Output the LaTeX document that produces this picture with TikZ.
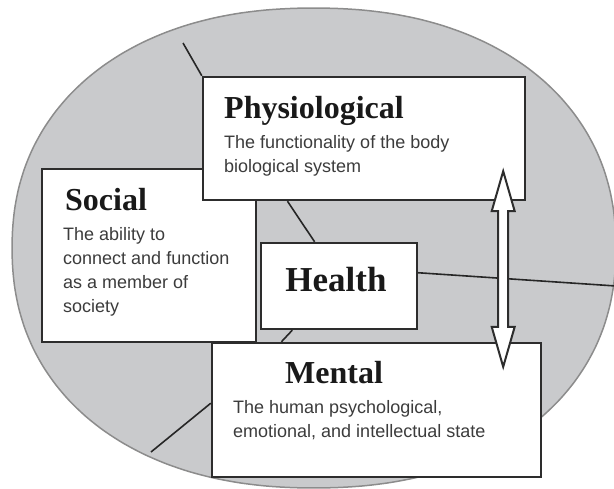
\documentclass[tikz,border=0pt]{standalone}
\usepackage{fontspec}
\setmainfont{Liberation Sans}
\newfontfamily\headfont{Liberation Serif}
\usetikzlibrary{calc}
\definecolor{ovalfill}{RGB}{201,202,204}
\definecolor{ovalline}{RGB}{140,140,140}
\definecolor{boxline}{RGB}{45,45,45}
\definecolor{desctext}{RGB}{60,60,60}
\definecolor{headtext}{RGB}{25,25,25}

\begin{document}
\begin{tikzpicture}[
	x = 1pt, y = -1pt,
	declare function = {
		ox(\t) = 314 + 302*cos(\t)/abs(cos(\t))^0.09;
		oy(\t) = 248 + 240*sin(\t)/abs(sin(\t))^0.09;
	},
	box/.style = {draw = boxline, line width = 2.4pt, fill = white, inner sep = 0pt},
	head/.style = {anchor = base west, inner sep = 0pt, text = headtext, font = \headfont\bfseries\fontsize{32}{36}\selectfont},
	desc/.style = {anchor = north west, inner sep = 0pt, align = left, text = desctext, font = \fontsize{18}{24}\selectfont},
	link/.style = {draw = black!85, line width = 1.6pt},
	twoway/.style = {draw = boxline, line width = 2pt, fill = white}]
	\useasboundingbox (0,0) rectangle (614,488);

	\draw[fill = ovalfill, draw = ovalline, line width = 1.5pt] plot[smooth cycle, domain = 2:358, samples = 72, variable = \t] ({ox(\t)},{oy(\t)});

	\coordinate (tl) at (183,43);
	\coordinate (bl) at (151,452);
	\coordinate (rt) at (616,286);

	\node[box, minimum width = 214pt, minimum height = 173pt] (social) at (149,255.5) {};
	\node[box, minimum width = 322pt, minimum height = 123pt] (phys) at (364,138.5) {};
	\node[box, minimum width = 156pt, minimum height = 86pt] (health) at (339,286) {};
	\node[box, minimum width = 329pt, minimum height = 134pt] (mental) at (376.5,410) {};

	\draw[link] (tl) -- (phys.north west);
	\draw[link] ($(phys.south west)!0.264!(phys.south east)$) -- ($(health.north west)!0.346!(health.north east)$);
	\draw[link] ($(health.south west)!0.205!(health.south east)$) -- ($(mental.north west)!0.213!(mental.north east)$);
	\draw[link] (bl) -- ($(mental.north west)!0.45!(mental.south west)$);
	\draw[link] ($(health.north east)!0.35!(health.south east)$) -- (rt);

	\node[head] (physhead) at (224,118) {Physiological};
	\node[desc] (physdesc) at (224,135) {The functionality of the body\\biological system};
	\node[head] (socialhead) at (65,210) {Social};
	\node[desc] (socialdesc) at (63,227) {The ability to\\connect and function\\as a member of\\society};
	\node[head, anchor = base, font = \headfont\bfseries\fontsize{35}{40}\selectfont] (healthhead) at (336,291) {Health};
	\node[head] (mentalhead) at (285,383) {Mental};
	\node[desc] (mentaldesc) at (233,400) {The human psychological,\\emotional, and intellectual state};

	\coordinate (up) at ($(phys.south east)+(-23,-30)$);
	\coordinate (dn) at ($(mental.north east)+(-39,25)$);
	\draw[twoway] (up) -- ++(11.5,40) -- ++(-6.5,0) -- ($(dn)+(5,-40)$) -- ++(6.5,0) -- (dn) -- ++(-11.5,-40) -- ++(6.5,0) -- ($(up)+(-5,40)$) -- ++(-6.5,0) -- cycle;

\end{tikzpicture}
\end{document}
